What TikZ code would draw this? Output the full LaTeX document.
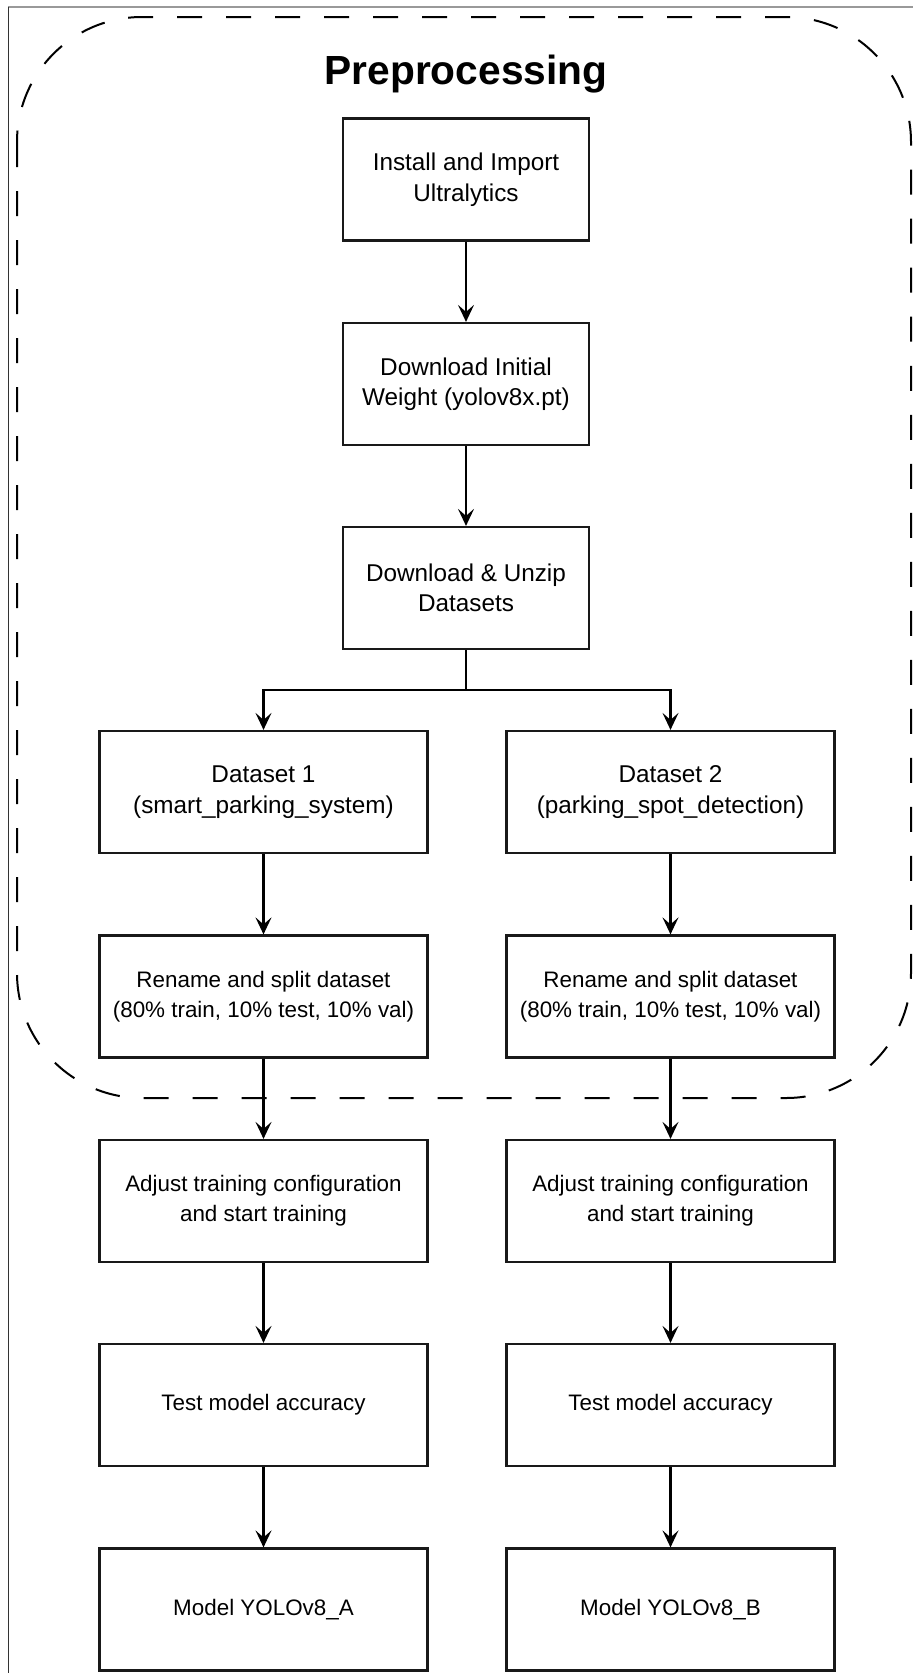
\documentclass[tikz,border=0pt]{standalone}
\usepackage{fontspec}
\setmainfont{Liberation Sans}
\usetikzlibrary{arrows.meta}
\begin{document}
\begin{tikzpicture}[x=1pt,y=-1pt,
  boxbase/.style={draw=black!90, line width=2.2pt, minimum height=122pt, inner sep=0pt, align=center},
  topbox/.style={boxbase, minimum width=246pt, font=\fontsize{24.3}{30.5}\selectfont},
  dsbox/.style={boxbase, minimum width=328pt, font=\fontsize{24.3}{30.5}\selectfont},
  lowbox/.style={boxbase, minimum width=328pt, font=\fontsize{22.4}{30}\selectfont},
  arr/.style={line width=2.2pt, -{Stealth[length=17pt,width=16pt,inset=7pt]}},
  plain/.style={line width=2.2pt},
  grouping/.style={line width=2pt, dash pattern=on 25pt off 24pt, rounded corners=125pt}
]
\useasboundingbox (0,0) rectangle (913,1673);
% outer frame (top and left edges)
\draw[gray!80, line width=1.5pt] (8,7) -- (913,7);
\draw[black!80, line width=1pt] (8,7) -- (8,1673);
% preprocessing group
\draw[grouping] (17,17) rectangle (911,1098);
\node[anchor=base, font=\bfseries\fontsize{40.7}{48}\selectfont] (title) at (466,84) {Preprocessing};
% main column
\node[topbox] (b1) at (466,179.5) {Install and Import\\Ultralytics};
\node[topbox] (b2) at (466,384) {Download Initial\\Weight (yolov8x.pt)};
\node[topbox] (b3) at (466,588) {Download \& Unzip\\Datasets};
% datasets
\node[dsbox] (d1) at (263.5,792) {Dataset 1\\(smart\_parking\_system)};
\node[dsbox] (d2) at (670.5,792) {Dataset 2\\(parking\_spot\_detection)};
\node[lowbox] (r1) at (263.5,996.5) {Rename and split dataset\\(80\% train, 10\% test, 10\% val)};
\node[lowbox] (r2) at (670.5,996.5) {Rename and split dataset\\(80\% train, 10\% test, 10\% val)};
\node[lowbox] (a1) at (263.5,1201) {Adjust training configuration\\and start training};
\node[lowbox] (a2) at (670.5,1201) {Adjust training configuration\\and start training};
\node[lowbox] (t1) at (263.5,1405) {Test model accuracy};
\node[lowbox] (t2) at (670.5,1405) {Test model accuracy};
\node[lowbox] (m1) at (263.5,1609.5) {Model YOLOv8\_A};
\node[lowbox] (m2) at (670.5,1609.5) {Model YOLOv8\_B};
% connectors
\coordinate (split) at (466,690);
\draw[arr] (b1) -- (b2);
\draw[arr] (b2) -- (b3);
\draw[plain] (b3.south) -- (split);
\draw[arr] (split) -| (d1.north);
\draw[arr] (split) -| (d2.north);
\draw[arr] (d1) -- (r1);
\draw[arr] (d2) -- (r2);
\draw[arr] (r1) -- (a1);
\draw[arr] (r2) -- (a2);
\draw[arr] (a1) -- (t1);
\draw[arr] (a2) -- (t2);
\draw[arr] (t1) -- (m1);
\draw[arr] (t2) -- (m2);
\end{tikzpicture}
\end{document}
